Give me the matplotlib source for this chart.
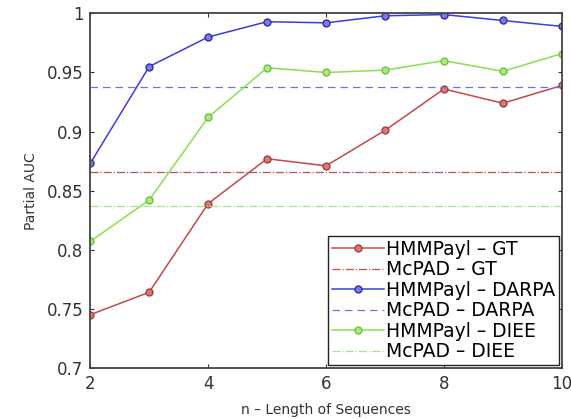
import numpy as np
import matplotlib
matplotlib.use('Agg')
import matplotlib.pyplot as plt

plt.rcParams['font.family'] = ['DejaVu Sans']

n = [2, 3, 4, 5, 6, 7, 8, 9, 10]
hmm_gt = [0.745, 0.764, 0.839, 0.877, 0.871, 0.901, 0.936, 0.924, 0.939]
hmm_darpa = [0.873, 0.955, 0.980, 0.993, 0.992, 0.998, 0.999, 0.994, 0.989]
hmm_diee = [0.807, 0.842, 0.912, 0.954, 0.950, 0.952, 0.960, 0.951, 0.966]
mcpad_gt = 0.866
mcpad_darpa = 0.938
mcpad_diee = 0.837

c_red = '#c84848'
c_blue = '#3c3cdc'
c_green = '#88e050'

fig, ax = plt.subplots(figsize=(5.71, 4.19), dpi=100)
fig.subplots_adjust(left=0.158, right=0.984, top=0.968, bottom=0.122)

ax.plot(n, hmm_gt, '-o', color=c_red, lw=1.1, ms=5, mfc='#d87878', mec='#a04040', mew=1.0, label='HMMPayl – GT')
ax.axhline(mcpad_gt, color='#c05050', ls='-.', lw=0.9, label='McPAD – GT')
ax.plot(n, hmm_darpa, '-o', color=c_blue, lw=1.1, ms=5, mfc='#7a7ae4', mec='#3030a8', mew=1.0, label='HMMPayl – DARPA')
ax.axhline(mcpad_darpa, color='#7070e0', ls='--', lw=0.9, dashes=(6, 4), label='McPAD – DARPA')
ax.plot(n, hmm_diee, '-o', color=c_green, lw=1.1, ms=5, mfc='#a8ec80', mec='#70c040', mew=1.0, label='HMMPayl – DIEE')
ax.axhline(mcpad_diee, color='#a8e480', ls='-.', lw=0.9, label='McPAD – DIEE')

ax.set_xlim(2, 10)
ax.set_ylim(0.7, 1.0)
ax.set_xticks([2, 4, 6, 8, 10])
ax.set_yticks([0.7, 0.75, 0.8, 0.85, 0.9, 0.95, 1.0])
ax.set_yticklabels(['0.7', '0.75', '0.8', '0.85', '0.9', '0.95', '1'])
ax.tick_params(direction='in', labelsize=12, top=True, right=True, length=3,
               colors='#333333', pad=5)
for s in ax.spines.values():
    s.set_color('#444444')
    s.set_linewidth(1.3)

ax.set_xlabel('n – Length of Sequences', fontsize=10, color='#333333', labelpad=7)
ax.set_ylabel('Partial AUC', fontsize=10, color='#333333', labelpad=6)

leg = ax.legend(loc='lower right', fontsize=13.5, fancybox=False, framealpha=1,
                edgecolor='#222222', borderaxespad=0.15, handlelength=2.8,
                handletextpad=0.1, labelspacing=0.08, borderpad=0.2)
leg.get_frame().set_linewidth(1.0)

fig.savefig('out.png', dpi=100)
